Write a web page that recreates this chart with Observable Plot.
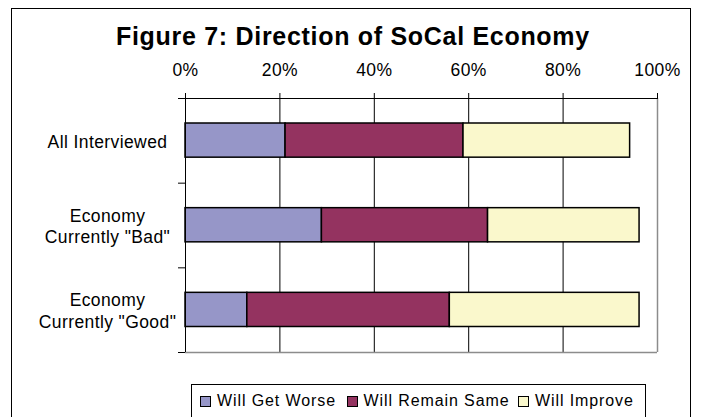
<!DOCTYPE html>
<html>
<head>
<meta charset="utf-8">
<script src="https://cdn.jsdelivr.net/npm/d3@7"></script>
<script src="https://cdn.jsdelivr.net/npm/@observablehq/plot@0.6"></script>
<style>
  html, body { margin: 0; padding: 0; background: #fff; }
  #wrap { position: relative; width: 704px; height: 417px; overflow: hidden; font-family: "Liberation Sans", Arial, sans-serif; }
  #frame { position: absolute; left: 11px; top: 7.5px; width: 680px; height: 430px; border: 1.5px solid #000; box-sizing: border-box; }
  #title { position: absolute; left: 116px; top: 24px; font-size: 25px; font-weight: bold; letter-spacing: 0.7px; white-space: nowrap; line-height: 1; }
  #chart { position: absolute; left: 0; top: 0; }
  #legend { position: absolute; left: 191px; top: 384px; width: 455px; height: 34px; border: 1px solid #000; box-sizing: border-box; background: #fff; }
  .item { position: absolute; top: 0; height: 32px; display: flex; align-items: center; font-size: 16px; letter-spacing: 0.9px; white-space: nowrap; }
  .sw { width: 9px; height: 9px; border: 1.5px solid #000; margin-right: 6px; box-sizing: content-box; }
</style>
</head>
<body>
<div id="wrap">
  <div id="frame"></div>
  <div id="chart"></div>
  <div id="title"></div>
  <div id="legend"></div>
</div>
<script>
const title = "Figure 7: Direction of SoCal Economy";
const categories = ["All Interviewed", "Economy\nCurrently \"Bad\"", "Economy\nCurrently \"Good\""];
const seriesNames = ["Will Get Worse", "Will Remain Same", "Will Improve"];
const seriesColors = ["#9696c8", "#943360", "#faf8cc"];
const willGetWorse = [21.2, 28.9, 13.1];
const willRemainSame = [37.7, 35.2, 42.9];
const willImprove = [35.3, 32.1, 40.2];
const xTicks = [0, 20, 40, 60, 80, 100];

const seriesValues = [willGetWorse, willRemainSame, willImprove];
const rows = [];
categories.forEach((c, i) => {
  let acc = 0;
  seriesNames.forEach((s, j) => {
    const v = seriesValues[j][i];
    rows.push({cat: i, series: s, x1: acc, x2: acc + v});
    acc += v;
  });
});

document.getElementById("title").textContent = title;

const chart = Plot.plot({
  width: 704,
  height: 370,
  marginTop: 98,
  marginLeft: 185,
  marginRight: 47,
  marginBottom: 18,
  style: {fontFamily: "'Liberation Sans', Arial, sans-serif", fontSize: "17px", color: "#000", background: "transparent", overflow: "visible"},
  x: {domain: [0, 100]},
  y: {domain: [0, categories.length], reverse: true},
  color: {domain: seriesNames, range: seriesColors},
  marks: [
    Plot.gridX(xTicks.slice(1, -1), {stroke: "#000", strokeOpacity: 1, strokeWidth: 1}),
    Plot.ruleX([100], {stroke: "#8c8c8c", strokeWidth: 1.5}),
    Plot.ruleY([categories.length], {stroke: "#8c8c8c", strokeWidth: 1.5}),
    Plot.rect(rows, {
      x1: "x1", x2: "x2",
      y1: d => d.cat, y2: d => d.cat + 1,
      fill: "series", stroke: "#000", strokeWidth: 1.5,
      insetTop: 25, insetBottom: 25.5
    }),
    Plot.ruleX([0], {stroke: "#000", strokeWidth: 1}),
    Plot.ruleY([0], {stroke: "#000", strokeWidth: 1}),
    Plot.axisX({anchor: "top", ticks: xTicks, tickSize: 6, tickPadding: 17, tickFormat: d => d + "%", label: null, fontSize: 17.5}),
    Plot.axisY({anchor: "left", ticks: d3.range(categories.length + 1), tickSize: 7, tickFormat: () => "", label: null}),
    Plot.text(categories, {
      y: (d, i) => i + 0.5,
      frameAnchor: "left",
      dx: -78,
      textAnchor: "middle",
      lineHeight: 1.25,
      text: d => d,
      fontSize: 17.5,
      fill: "#000"
    })
  ]
});
chart.querySelectorAll("text").forEach(t => t.style.letterSpacing = "0.4px");
document.getElementById("chart").appendChild(chart);

const legend = document.getElementById("legend");
const itemLefts = [8, 154.5, 326];
seriesNames.forEach((s, j) => {
  const it = document.createElement("div");
  it.className = "item";
  it.style.left = itemLefts[j] + "px";
  const sw = document.createElement("span");
  sw.className = "sw";
  sw.style.background = seriesColors[j];
  const tx = document.createElement("span");
  tx.textContent = s;
  it.appendChild(sw);
  it.appendChild(tx);
  legend.appendChild(it);
});
</script>
</body>
</html>
